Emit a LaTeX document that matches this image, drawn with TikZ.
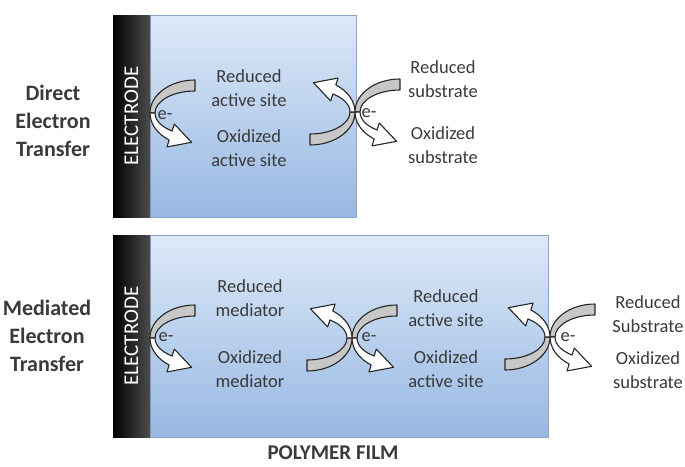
\documentclass[tikz,border=0pt]{standalone}
\usepackage{fontspec}
\setmainfont{Carlito}
\definecolor{filmtop}{HTML}{DDE9F8}
\definecolor{filmbot}{HTML}{97B8E2}
\definecolor{filmedge}{HTML}{8AA4C6}
\definecolor{ink}{HTML}{3A3A3A}
\begin{document}
\begin{tikzpicture}[x=1pt, y=-1pt,
  film/.style={draw=filmedge, line width=0.6pt, top color=filmtop, bottom color=filmbot, minimum height=202pt, inner sep=0pt},
  electrode/.style={rotate=90, minimum width=202pt, minimum height=37pt, inner sep=0pt, left color=black, right color=black!70, text=white, font=\fontsize{21}{21}\selectfont},
  lbl/.style={align=center, text=ink, font=\fontsize{18.5}{24}\selectfont},
  side/.style={align=center, text=ink, font=\bfseries\fontsize{22}{28}\selectfont},
  elabel/.style={text=ink, font=\fontsize{18.5}{20}\selectfont, inner sep=0pt},
  tailpart/.style={fill=black!22, draw=black!85, line width=1.1pt, line join=round},
  headpart/.style={fill=white, draw=black!85, line width=1.1pt, line join=round},
  redox/.pic={
    \filldraw[tailpart] (0,0) arc[start angle=180, end angle=270, x radius=45, y radius=33] -- (45,-22) arc[start angle=270, end angle=180, x radius=40, y radius=22] -- cycle;
    \filldraw[headpart] (0,0) arc[start angle=180, end angle=125, x radius=45, y radius=33] -- (16.97,33.92) -- (41.6,29.3) -- (24.33,11.08) -- (22.06,18.02) arc[start angle=125, end angle=180, x radius=40, y radius=22] -- cycle;
  }
]
\useasboundingbox (0,0) rectangle (685,466);
\node[film, minimum width=206pt] (film1) at (253,116) {};
\node[film, minimum width=398pt] (film2) at (349,336) {};
\node[electrode] (elec1) at (131.5,116) {ELECTRODE};
\node[electrode] (elec2) at (131.5,336) {ELECTRODE};
\pic at (150,113) {redox};
\pic at (355,112) {redox};
\pic[rotate=180] at (355,112) {redox};
\pic at (150,338) {redox};
\pic at (352,338) {redox};
\pic[rotate=180] at (352,338) {redox};
\pic at (550,337) {redox};
\pic[rotate=180] at (550,337) {redox};
\node[side] (direct) at (53,121) {Direct\\Electron\\Transfer};
\node[side] (mediated) at (47,336) {Mediated\\Electron\\Transfer};
\node[lbl] (redsite1) at (249,88) {Reduced\\active site};
\node[lbl] (oxsite1) at (249,148) {Oxidized\\active site};
\node[lbl] (redsub1) at (443,79) {Reduced\\substrate};
\node[lbl] (oxsub1) at (443,145) {Oxidized\\substrate};
\node[lbl] (redmed) at (250,298) {Reduced\\mediator};
\node[lbl] (oxmed) at (250,369) {Oxidized\\mediator};
\node[lbl] (redsite2) at (446,308) {Reduced\\active site};
\node[lbl] (oxsite2) at (446,369) {Oxidized\\active site};
\node[lbl] (redsub2) at (648,314) {Reduced\\Substrate};
\node[lbl] (oxsub2) at (648,370) {Oxidized\\substrate};
\node[elabel] (e1) at (165,115) {e-};
\node[elabel] (e2) at (369,113) {e-};
\node[elabel] (e3) at (166,337) {e-};
\node[elabel] (e4) at (369,337) {e-};
\node[elabel] (e5) at (568,337) {e-};
\node[side, font=\bfseries\fontsize{21}{21}\selectfont] (polymer) at (333,453) {POLYMER FILM};
\end{tikzpicture}
\end{document}
